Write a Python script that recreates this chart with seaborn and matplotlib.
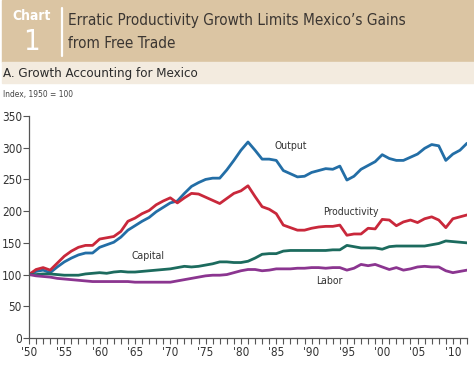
import numpy as np
import pandas as pd
import matplotlib
matplotlib.use("Agg")
import matplotlib.pyplot as plt
import seaborn as sns

years = list(range(1950, 2013))

output = [100, 105, 107, 103, 112, 120, 126, 131, 134, 134,
          143, 147, 151, 159, 170, 177, 184, 190, 199, 206,
          213, 216, 228, 239, 245, 250, 252, 252, 265, 280,
          296, 309, 296, 282, 282, 280, 264, 259, 254, 255,
          261, 264, 267, 266, 271, 249, 255, 266, 272, 278,
          289, 283, 280, 280, 285, 290, 299, 305, 303, 280,
          290, 296, 307]

productivity = [100, 108, 111, 107, 118, 129, 137, 143, 146, 146,
                156, 158, 160, 168, 184, 189, 196, 201, 210, 216,
                221, 213, 221, 228, 227, 222, 217, 212, 220, 228,
                232, 240, 223, 207, 203, 196, 178, 174, 170, 170,
                173, 175, 176, 176, 178, 162, 164, 164, 173, 172,
                187, 186, 177, 183, 186, 182, 188, 191, 186, 174,
                188, 191, 194]

capital = [100, 100, 101, 101, 100, 99, 99, 99, 101, 102,
           103, 102, 104, 105, 104, 104, 105, 106, 107, 108,
           109, 111, 113, 112, 113, 115, 117, 120, 120, 119,
           119, 121, 126, 132, 133, 133, 137, 138, 138, 138,
           138, 138, 138, 139, 139, 146, 144, 142, 142, 142,
           140, 144, 145, 145, 145, 145, 145, 147, 149, 153,
           152, 151, 150]

labor = [100, 98, 97, 96, 94, 93, 92, 91, 90, 89,
         89, 89, 89, 89, 89, 88, 88, 88, 88, 88,
         88, 90, 92, 94, 96, 98, 99, 99, 100, 103,
         106, 108, 108, 106, 107, 109, 109, 109, 110, 110,
         111, 111, 110, 111, 111, 107, 110, 116, 114, 116,
         112, 108, 111, 107, 109, 112, 113, 112, 112, 106,
         103, 105, 107]

series_names = ["Output", "Productivity", "Capital", "Labor"]
colors = {"Output": "#236ea6", "Productivity": "#c9283b",
          "Capital": "#1c6b5e", "Labor": "#8b3590"}

df = pd.DataFrame({"year": years, "Output": output, "Productivity": productivity,
                   "Capital": capital, "Labor": labor})
long_df = df.melt(id_vars="year", var_name="series", value_name="index")

sns.set_style("ticks")
plt.rcParams["font.family"] = ["DejaVu Sans"]
plt.rcParams["font.stretch"] = "condensed"

fig = plt.figure(figsize=(4.74, 3.68), dpi=100)

# header bands
fig.patches.append(plt.Rectangle((0.004, 1 - 62 / 368), 0.996, 62 / 368,
                                 transform=fig.transFigure, color="#dbc5a3", zorder=0))
fig.patches.append(plt.Rectangle((0.004, 1 - 83 / 368), 0.996, 21 / 368,
                                 transform=fig.transFigure, color="#f3ebdf", zorder=0))
fig.lines.append(plt.Line2D([62 / 474, 62 / 474], [1 - 8 / 368, 1 - 56 / 368],
                            transform=fig.transFigure, color="white", lw=1.6))
fig.text(32 / 474, 1 - 16 / 368, "Chart", color="white", fontsize=10,
         fontweight="bold", ha="center", va="center")
fig.text(31 / 474, 1 - 42 / 368, "1", color="white", fontsize=21,
         ha="center", va="center")
fig.text(68 / 474, 1 - 20 / 368, "Erratic Productivity Growth Limits Mexico\u2019s Gains",
         color="#3b3632", fontsize=11, ha="left", va="center")
fig.text(68 / 474, 1 - 44 / 368, "from Free Trade",
         color="#3b3632", fontsize=11, ha="left", va="center")
fig.text(3 / 474, 1 - 73 / 368, "A. Growth Accounting for Mexico",
         color="#2b2b2b", fontsize=9.5, ha="left", va="center")
fig.text(3 / 474, 1 - 94 / 368, "Index, 1950 = 100",
         color="#444444", fontsize=6, ha="left", va="center")

ax = fig.add_axes([29 / 474, 1 - 338 / 368, 438 / 474, 222 / 368])
sns.lineplot(data=long_df, x="year", y="index", hue="series", hue_order=series_names,
             palette=colors, linewidth=2.0, legend=False, ax=ax)

ax.set_xlim(1950, 2012)
ax.set_ylim(0, 350)
ax.set_xticks(range(1950, 2011, 5))
ax.set_xticklabels(["'" + str(y)[2:] for y in range(1950, 2011, 5)])
ax.set_xticks(range(1950, 2013), minor=True)
ax.set_yticks(range(0, 351, 50))
ax.set_xlabel("")
ax.set_ylabel("")
sns.despine(ax=ax)
for s in ["left", "bottom"]:
    ax.spines[s].set_color("#555555")
    ax.spines[s].set_linewidth(0.9)
ax.tick_params(axis="both", which="both", colors="#555555", labelcolor="#333333",
               labelsize=8.5, width=0.8)
ax.tick_params(axis="x", which="both", length=4, pad=2)
ax.tick_params(axis="y", length=4, pad=1)

ax.text(1987, 303, "Output", fontsize=7.5, color="#333333", ha="center", va="center")
ax.text(1995.6, 198, "Productivity", fontsize=7.5, color="#333333", ha="center", va="center")
ax.text(1966.9, 130, "Capital", fontsize=7.5, color="#333333", ha="center", va="center")
ax.text(1992.5, 90, "Labor", fontsize=7.5, color="#333333", ha="center", va="center")

fig.savefig("out.png", dpi=100)
